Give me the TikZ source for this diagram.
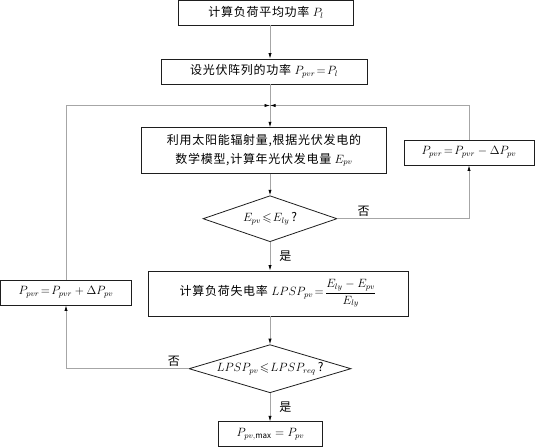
\documentclass[tikz,border=0pt]{standalone}
\usepackage{amsmath,amssymb}
\usepackage{fontspec}
\setmainfont{Noto Sans CJK SC}[LetterSpace=6]
\usetikzlibrary{shapes.geometric, arrows.meta, positioning}
\definecolor{flowLine}{HTML}{A6A6A6}
\definecolor{flowEdge}{HTML}{1E1E1E}

\begin{document}
\begin{tikzpicture}[x=1pt, y=-1pt, font=\fontsize{12}{18.5}\selectfont,
        proc/.style={draw=flowEdge, line width=0.8pt, fill=white, align=center, inner sep=0pt, minimum height=25pt},
        test/.style={diamond, draw=flowEdge, line width=0.8pt, fill=white, aspect=3, inner sep=0pt, minimum height=46pt},
        arr/.style={-{Latex[length=5.5pt, width=3.2pt, color=black]}, flowLine, line width=0.7pt},
        lbl/.style={inner sep=2pt, text=black}]
        \useasboundingbox (0,0) rectangle (535,447);
        \node[proc, minimum width=175pt] (avg) at (266,12.5) {计算负荷平均功率 $P_l$};
        \node[proc, minimum width=206pt] (init) at (264,71.5) {设光伏阵列的功率 $P_{pvr}\!=\!P_l$};
        \coordinate (join) at (270,105.5);
        \node[proc, minimum width=245pt, minimum height=45.6pt] (gen) at (264,150.5) {利用太阳能辐射量,根据光伏发电的\\数学模型,计算年光伏发电量 $E_{pv}$};
        \node[proc, minimum width=130pt] (dec) at (469,152.5) {$P_{pvr}\!=\!P_{pvr}-\Delta P_{pv}$};
        \node[test, minimum width=134pt] (chk) at (270,218.7) {$E_{pv}\!\leqslant\! E_{ly}$\,?};
        \node[proc, minimum width=260pt, minimum height=45pt] (lpsp) at (278,293.5) {计算负荷失电率 $LPSP_{pv}\!=\!\dfrac{E_{ly}-E_{pv}}{E_{ly}}$};
        \node[proc, minimum width=131pt] (inc) at (66,292.5) {$P_{pvr}\!=\!P_{pvr}+\Delta P_{pv}$};
        \node[test, minimum width=162pt] (req) at (270,368.7) {$LPSP_{pv}\!\leqslant\! LPSP_{req}$\,?};
        \node[proc, minimum width=104pt] (res) at (270.5,434.3) {$P_{pv,\max}=P_{pv}$};
        % main column
        \draw[arr] (avg.south -| join) -- (init.north -| join);
        \draw[arr] (init.south -| join) -- (gen.north -| join);
        \draw[arr] (gen.south -| join) -- (chk.north);
        \draw[arr] (chk.south) -- node[lbl, right=7pt]{是} (lpsp.north -| join);
        \draw[arr] (lpsp.south -| join) -- (req.north);
        \draw[arr] (req.south) -- node[lbl, right=7pt]{是} (res.north -| join);
        % loops back
        \draw[arr] (chk.east) -- node[lbl, pos=0.2, above]{否} (chk.east -| dec) -- (dec.south);
        \draw[arr] (dec.north) -- (dec.north |- join) -- (join);
        \draw[arr] (req.west) -- node[lbl, pos=0.12, above]{否} (req.west -| inc) -- (inc.south);
        \draw[arr] (inc.north) -- (inc.north |- join) -- (join);
      \end{tikzpicture}
\end{document}
